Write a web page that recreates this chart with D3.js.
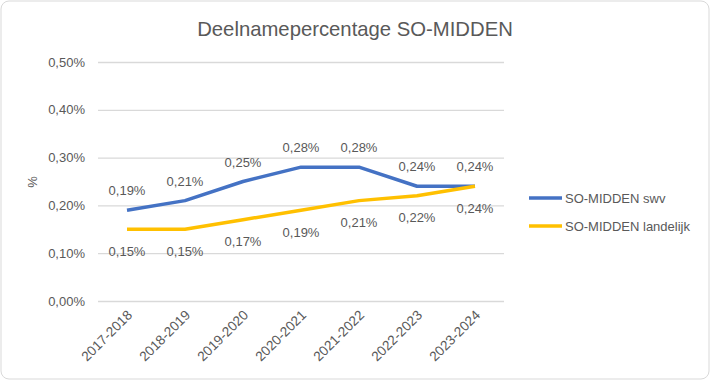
<!DOCTYPE html>
<html>
<head>
<meta charset="utf-8">
<script src="https://cdn.jsdelivr.net/npm/d3@7"></script>
<style>
  html, body { margin: 0; padding: 0; background: #fff; }
  svg { display: block; font-family: "Liberation Sans", Arial, sans-serif; }
</style>
</head>
<body>
<svg id="chart" width="711" height="381"></svg>
<script>
const title = "Deelnamepercentage SO-MIDDEN";
const categories = ["2017-2018", "2018-2019", "2019-2020", "2020-2021", "2021-2022", "2022-2023", "2023-2024"];
const swvValues = [0.19, 0.21, 0.25, 0.28, 0.28, 0.24, 0.24];
const landelijkValues = [0.15, 0.15, 0.17, 0.19, 0.21, 0.22, 0.24];
const seriesNames = ["SO-MIDDEN swv", "SO-MIDDEN landelijk"];
const yTicks = [0, 0.1, 0.2, 0.3, 0.4, 0.5];
const yAxisTitle = "%";

const nl = d3.formatLocale({ decimal: ",", thousands: ".", grouping: [3], currency: ["€", ""] });
const fmt = v => nl.format(".2f")(v) + "%";

const svg = d3.select("#chart");
const textColor = "#595959";
const colors = ["#4472C4", "#FFC000"];

// chart border
svg.append("rect").attr("x", 1).attr("y", 1).attr("width", 708).attr("height", 378)
  .attr("rx", 8).attr("fill", "#fff").attr("stroke", "#d9d9d9").attr("stroke-width", 1);

const plot = { left: 98, right: 504, top: 62, bottom: 301 };
const x = d3.scaleBand().domain(categories).range([plot.left, plot.right]);
const y = d3.scaleLinear().domain([0, 0.5]).range([plot.bottom, plot.top]);
const cx = c => x(c) + x.bandwidth() / 2;

// title
svg.append("text").attr("x", 355).attr("y", 36).attr("text-anchor", "middle")
  .attr("font-size", "20.3px").attr("fill", textColor).text(title);

// gridlines + y labels
const yAxis = d3.axisLeft(y).tickValues(yTicks).tickSize(-(plot.right - plot.left))
  .tickPadding(13).tickFormat(fmt);
const gy = svg.append("g").attr("transform", `translate(${plot.left},0)`).call(yAxis);
gy.select(".domain").remove();
gy.selectAll(".tick line").attr("stroke", "#d9d9d9").attr("stroke-width", 1.3);
gy.selectAll(".tick text").attr("fill", textColor).attr("font-size", "13px")
  .attr("font-family", "Liberation Sans, Arial, sans-serif");

// y axis title
svg.append("text").attr("transform", "translate(37,182) rotate(-90)").attr("text-anchor", "middle")
  .attr("font-size", "13px").attr("fill", textColor).text(yAxisTitle);

// x labels
const xAxis = d3.axisBottom(x).tickSize(0).tickPadding(0);
const gx = svg.append("g").attr("transform", `translate(0,${plot.bottom})`).call(xAxis);
gx.select(".domain").remove();
gx.selectAll(".tick text")
  .attr("fill", textColor).attr("font-size", "13.6px")
  .attr("font-family", "Liberation Sans, Arial, sans-serif")
  .attr("text-anchor", "end")
  .attr("dy", 0)
  .attr("transform", "translate(6,15) rotate(-45)");

// lines
const line = d3.line().x((d, i) => cx(categories[i])).y(d => y(d));
const series = [swvValues, landelijkValues];
series.forEach((vals, si) => {
  svg.append("path").datum(vals).attr("d", line).attr("fill", "none")
    .attr("stroke", colors[si]).attr("stroke-width", 3.5).attr("stroke-linejoin", "round");
});

// data labels
svg.append("g").selectAll("text").data(swvValues).join("text")
  .attr("x", (d, i) => cx(categories[i])).attr("y", d => y(d) - 15)
  .attr("text-anchor", "middle").attr("font-size", "13px").attr("fill", textColor).text(fmt);
svg.append("g").selectAll("text").data(landelijkValues).join("text")
  .attr("x", (d, i) => cx(categories[i])).attr("y", d => y(d) + 26.5)
  .attr("text-anchor", "middle").attr("font-size", "13px").attr("fill", textColor).text(fmt);

// legend
const leg = svg.append("g");
seriesNames.forEach((name, i) => {
  const ly = 198 + i * 28;
  leg.append("line").attr("x1", 529).attr("x2", 562).attr("y1", ly).attr("y2", ly)
    .attr("stroke", colors[i]).attr("stroke-width", 3.5);
  leg.append("text").attr("x", 565).attr("y", ly + 4.5).attr("font-size", "13px")
    .attr("fill", textColor).text(name);
});
</script>
</body>
</html>
